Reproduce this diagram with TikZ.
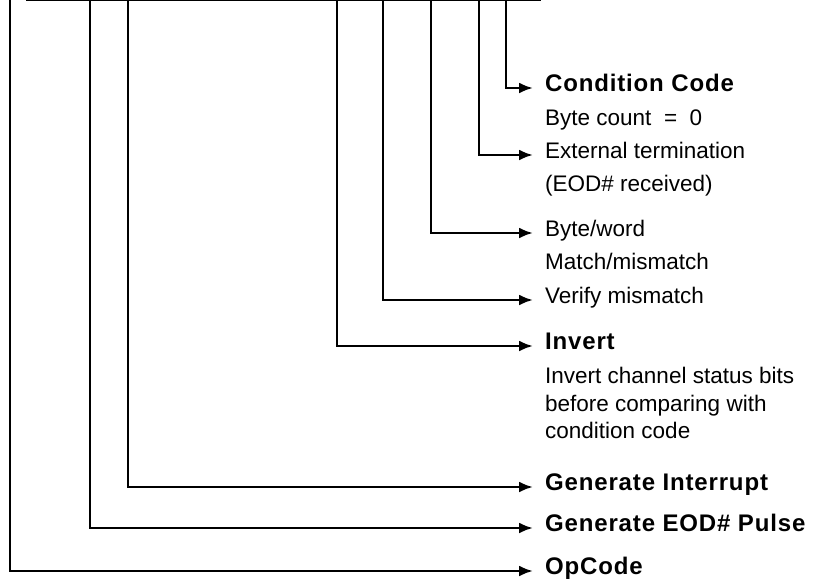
\documentclass[tikz,border=0pt]{standalone}
\usepackage{fontspec}
\setmainfont{Liberation Sans}
\newfontfamily\labelbold[LetterSpace=3.5]{Liberation Sans Bold}
\usetikzlibrary{arrows.meta}
\tikzset{
  bitline/.style={line width=2.6pt, -{Latex[length=14pt,width=11pt]}},
  head/.style={anchor=west, inner xsep=12pt, inner ysep=0pt, text height=1.4ex,
               text depth=0pt, font=\fontsize{24}{28}\labelbold},
  plainhead/.style={head, font=\fontsize{22.5}{28}\selectfont},
  note/.style={anchor=base west, inner sep=0pt, font=\fontsize{22.5}{28}\selectfont},
}

\begin{document}
\begin{tikzpicture}[x=1pt, y=-1pt]
\useasboundingbox (0,0) rectangle (824,581);

% edge of the register above
\draw[line width=2.4pt] (26,0) -- (541,0);

% bit fields
\coordinate (bop)  at (10,0);
\coordinate (beod) at (90,0);
\coordinate (bint) at (128,0);
\coordinate (binv) at (337,0);
\coordinate (bver) at (383,0);
\coordinate (bbw)  at (431,0);
\coordinate (bext) at (479,0);
\coordinate (bcc)  at (506,0);

% labels
\node[head]      (cc)   at (533,88)  {Condition Code};
\node[note]      (ccd)  at (545,125) {Byte count\ \ =\ \ 0};
\node[plainhead] (ext)  at (533,155) {External termination};
\node[note]      (extd) at (545,191) {(EOD\# received)};
\node[plainhead] (bw)   at (533,233) {Byte/word};
\node[note]      (bwd)  at (545,269) {Match/mismatch};
\node[plainhead] (ver)  at (533,300) {Verify mismatch};
\node[head]      (inv)  at (533,346) {Invert};
\node[note]      (inv1) at (545,383) {Invert channel status bits};
\node[note]      (inv2) at (545,411) {before comparing with};
\node[note]      (inv3) at (545,438) {condition code};
\node[head]      (gi)   at (533,487) {Generate Interrupt};
\node[head]      (ge)   at (533,528) {Generate EOD\# Pulse};
\node[head]      (op)   at (533,571) {OpCode};

\draw[bitline] (bcc)  |- (cc.west);
\draw[bitline] (bext) |- (ext.west);
\draw[bitline] (bbw)  |- (bw.west);
\draw[bitline] (bver) |- (ver.west);
\draw[bitline] (binv) |- (inv.west);
\draw[bitline] (bint) |- (gi.west);
\draw[bitline] (beod) |- (ge.west);
\draw[bitline] (bop)  |- (op.west);
\end{tikzpicture}
\end{document}
